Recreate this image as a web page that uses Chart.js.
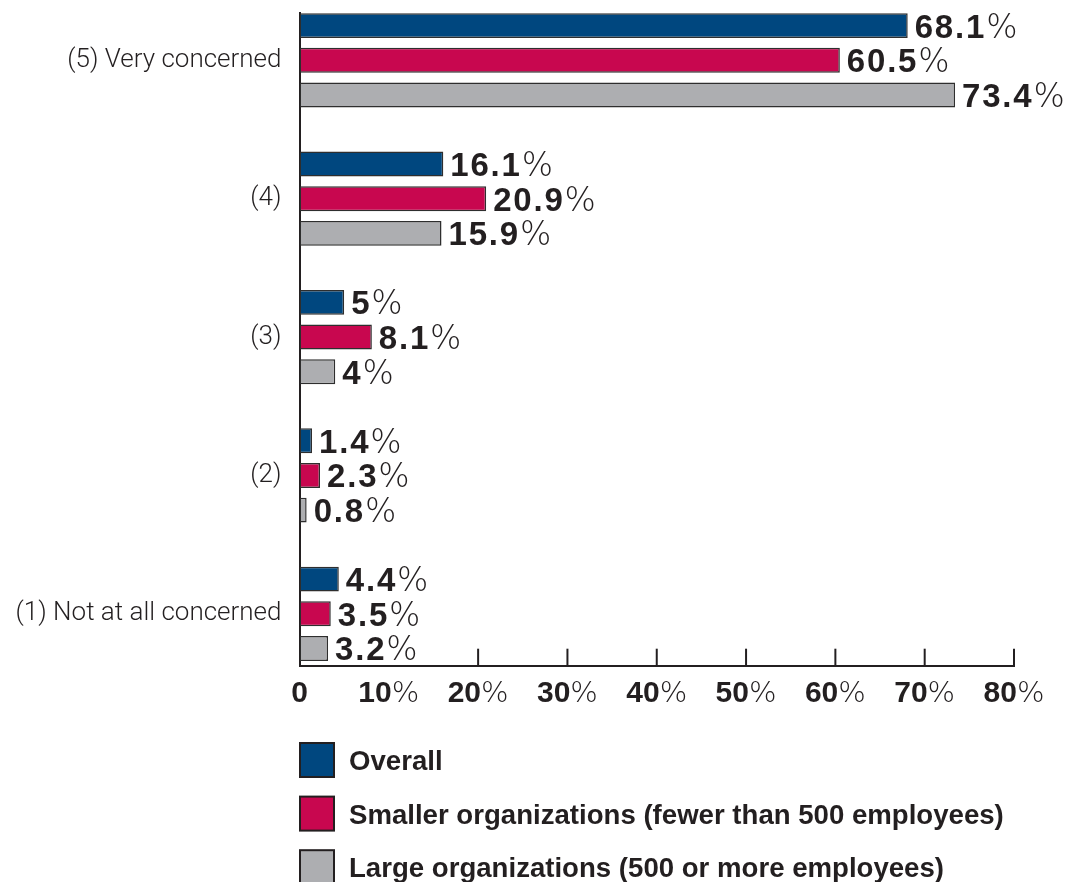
<!DOCTYPE html>
<html>
<head>
<meta charset="utf-8">
<script src="https://cdn.jsdelivr.net/npm/chart.js@4.4.0/dist/chart.umd.min.js"></script>
<style>
  html, body { margin: 0; padding: 0; background: #fff; }
  canvas { display: block; }
</style>
</head>
<body>
<canvas id="concernChart" width="1076" height="882"></canvas>
<script>
const categories = ['(5) Very concerned', '(4)', '(3)', '(2)', '(1) Not at all concerned'];
const seriesNames = [
  'Overall',
  'Smaller organizations (fewer than 500 employees)',
  'Large organizations (500 or more employees)'
];
const overall = [68.1, 16.1, 5, 1.4, 4.4];
const smallerOrgs = [60.5, 20.9, 8.1, 2.3, 3.5];
const largeOrgs = [73.4, 15.9, 4, 0.8, 3.2];
const xTickLabels = ['0', '10%', '20%', '30%', '40%', '50%', '60%', '70%', '80%'];

const ink = '#231f20';
const colors = ['#00477f', '#c8074f', '#adaeb1'];
const numFont = '"Liberation Sans", Arial, sans-serif';
const pctFont = '"DejaVu Sans", sans-serif';

// category index on the vertical axis, value on the horizontal one
function toPoints(values) {
  return values.map((v, i) => ({ x: v, y: i }));
}

// number in bold followed by a thin percent sign
function drawPercent(ctx, num, x, y, size, pctSize, spacing) {
  ctx.font = 'bold ' + size + 'px ' + numFont;
  ctx.letterSpacing = spacing + 'px';
  ctx.fillText(num, x, y);
  const w = ctx.measureText(num).width;
  ctx.font = '200 ' + pctSize + 'px ' + pctFont;
  ctx.letterSpacing = '0px';
  ctx.fillText('%', x + w, y);
}

function percentWidth(ctx, num, size, pctSize, spacing) {
  ctx.font = 'bold ' + size + 'px ' + numFont;
  ctx.letterSpacing = spacing + 'px';
  let w = ctx.measureText(num).width;
  ctx.font = '200 ' + pctSize + 'px ' + pctFont;
  ctx.letterSpacing = '0px';
  return w + ctx.measureText('%').width;
}

const valueLabels = {
  id: 'valueLabels',
  afterDatasetsDraw(chart) {
    const ctx = chart.ctx;
    ctx.save();
    ctx.fillStyle = ink;
    ctx.textAlign = 'left';
    ctx.textBaseline = 'alphabetic';
    chart.data.datasets.forEach((ds, di) => {
      chart.getDatasetMeta(di).data.forEach((bar, i) => {
        drawPercent(ctx, String(ds.data[i].x), bar.x + 7, bar.y + 12, 33, 33, 1.8);
      });
    });
    ctx.restore();
  }
};

// tick marks pointing up into the plot, and the bottom labels
const xAxisMarks = {
  id: 'xAxisMarks',
  afterDraw(chart) {
    const { ctx, chartArea } = chart;
    const xs = chart.scales.x;
    ctx.save();
    ctx.strokeStyle = ink;
    ctx.fillStyle = ink;
    ctx.lineWidth = 2;
    ctx.textAlign = 'left';
    ctx.textBaseline = 'alphabetic';
    xs.ticks.forEach((t, i) => {
      const px = xs.getPixelForValue(t.value);
      if (t.value > 10) {
        ctx.beginPath();
        ctx.moveTo(px, chartArea.bottom);
        ctx.lineTo(px, chartArea.bottom - 17);
        ctx.stroke();
      }
      const label = xTickLabels[i];
      const num = label.replace('%', '');
      if (label.endsWith('%')) {
        const w = percentWidth(ctx, num, 30, 29, 0);
        drawPercent(ctx, num, px - w / 2, 702, 30, 29, 0);
      } else {
        ctx.font = 'bold 30px ' + numFont;
        ctx.textAlign = 'center';
        ctx.fillText(num, px, 702);
        ctx.textAlign = 'left';
      }
    });
    ctx.restore();
  }
};

const boxLegend = {
  id: 'boxLegend',
  afterDraw(chart) {
    const ctx = chart.ctx;
    ctx.save();
    chart.data.datasets.forEach((ds, i) => {
      const top = 743 + i * 53.6;
      ctx.fillStyle = ds.backgroundColor;
      ctx.fillRect(300, top, 34, 34);
      ctx.strokeStyle = ink;
      ctx.lineWidth = 2;
      ctx.strokeRect(300, top, 34, 34);
      ctx.fillStyle = ink;
      ctx.font = 'bold 27.6px ' + numFont;
      ctx.textBaseline = 'alphabetic';
      ctx.fillText(ds.label, 349, top + 27);
    });
    ctx.restore();
  }
};

const datasets = [overall, smallerOrgs, largeOrgs].map((values, i) => ({
  label: seriesNames[i],
  data: toPoints(values),
  backgroundColor: colors[i],
  borderColor: '#2e2e2e',
  borderWidth: 1.5,
  borderSkipped: false,
  categoryPercentage: 0.752,
  barPercentage: 0.72
}));

new Chart(document.getElementById('concernChart'), {
  type: 'bar',
  data: { datasets: datasets },
  options: {
    indexAxis: 'y',
    responsive: false,
    animation: false,
    layout: { padding: { top: 13, right: 62, left: 0, bottom: 0 } },
    plugins: {
      legend: { display: false },
      tooltip: { enabled: false }
    },
    scales: {
      x: {
        type: 'linear',
        min: 0,
        max: 80,
        ticks: { stepSize: 10, display: false },
        afterFit: (scale) => {
          scale.height = 882 - 665.7;
          scale.paddingLeft = 0;
          scale.paddingRight = 0;
        },
        grid: { display: false, drawTicks: false },
        border: { display: true, color: ink, width: 2 }
      },
      y: {
        type: 'linear',
        reverse: true,
        offset: false,
        min: -0.342,
        max: 4.375,
        afterBuildTicks: (scale) => {
          scale.ticks = categories.map((c, i) => ({ value: i }));
        },
        afterFit: (scale) => {
          scale.width = 299.5;
          scale.paddingTop = 0;
          scale.paddingBottom = 0;
        },
        grid: { display: false, drawTicks: false, offset: false },
        border: { display: true, color: ink, width: 2 },
        ticks: {
          padding: 18,
          color: ink,
          autoSkip: false,
          font: { family: 'Roboto', size: 26, weight: 300 },
          callback: (v) => categories[v]
        }
      }
    }
  },
  plugins: [valueLabels, xAxisMarks, boxLegend]
});
</script>
</body>
</html>
